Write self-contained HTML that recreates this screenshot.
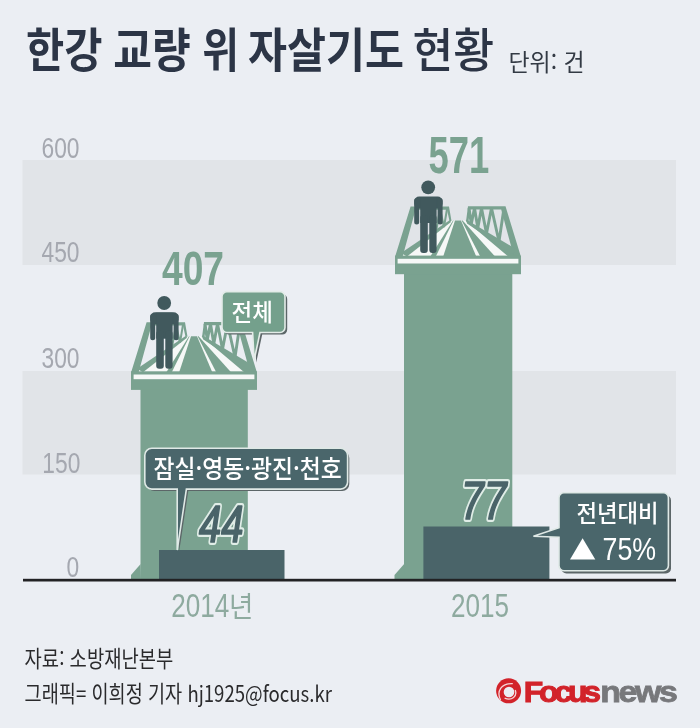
<!DOCTYPE html>
<html lang="ko">
<head>
<meta charset="utf-8">
<title>한강 교량 위 자살기도 현황</title>
<style>
html,body{margin:0;padding:0;background:#ebeef3;}
body{width:700px;height:728px;overflow:hidden;position:relative;font-family:"Liberation Sans","Noto Sans CJK KR",sans-serif;}
svg{position:absolute;left:0;top:0;display:block;}
.ko{font-family:"Noto Sans CJK KR","NanumGothic",sans-serif;}
.la{font-family:"Liberation Sans","Noto Sans CJK KR",sans-serif;}
</style>
</head>
<body>
<svg width="700" height="728" viewBox="0 0 700 728">
<defs>
  <g id="bridge">
    <!-- deck -->
    <polygon points="397,257 519,257 466.5,220.5 450,220.5" fill="#f6f8f7"/>
    <!-- lanes -->
    <polygon points="430,257 435.5,257 453.6,220.5 453,220.5" fill="#7aa290"/>
    <polygon points="443,257 476.5,257 461,220.5 455,220.5" fill="#7aa290"/>
    <polygon points="480.5,257 495.5,257 462.6,220.5 461.6,220.5" fill="#7aa290"/>
    <polygon points="508.8,257 521,257 468,220.5 465.5,220.5" fill="#7aa290"/>
    <!-- left truss -->
    <polygon points="395,257 402.5,257 415.5,209.8 447,209.8 449.5,221 451.5,221 449,206.6 410.6,206.6" fill="#7aa290"/>
    <polygon points="401,253 407,256.5 451,222 450,220" fill="#7aa290"/>
    <polyline points="436,232 440,209 444,227 447,209" fill="none" stroke="#7aa290" stroke-width="2"/>
    <!-- right truss -->
    <polygon points="468,206.3 505.5,206.3 521,257 514,257 501.2,209.6 470,209.6 468.5,221.5 466,221.5" fill="#7aa290"/>
    <polygon points="466,219.5 467,223.5 513,254.5 516,249" fill="#7aa290"/>
    <polyline points="469,208 471.3,224 474.5,208 477.8,228 481.5,208 486.5,233.5 491.5,208 499,241.5 504,208" fill="none" stroke="#7aa290" stroke-width="2.9" stroke-linejoin="miter"/>
    <!-- slab -->
    <rect x="395" y="255.6" width="126" height="18.6" fill="#7aa290"/>
    <rect x="397.6" y="258.8" width="120.8" height="4.7" fill="#f6f8f7"/>
  </g>
  <g id="person" fill="#41595d">
    <circle cx="428.2" cy="187.3" r="6.9"/>
    <rect x="414.2" y="196.6" width="28.4" height="12" rx="5"/>
    <rect x="414.2" y="198" width="5" height="26.6" rx="2.5"/>
    <rect x="437.6" y="198" width="5" height="26.6" rx="2.5"/>
    <rect x="420.2" y="197" width="16.4" height="26"/>
    <rect x="420.2" y="215" width="7.6" height="38" rx="3"/>
    <rect x="429.3" y="215" width="7.3" height="38" rx="3"/>
  </g>
</defs>

<rect width="700" height="728" fill="#ebeef3"/>

<!-- bands -->
<rect x="22.5" y="160" width="653.5" height="105" fill="#e1e4e8"/>
<rect x="22.5" y="371" width="653.5" height="103.5" fill="#e1e4e8"/>

<!-- title -->
<g class="ko" font-size="46.5" font-weight="700" fill="#2c3546">
<text transform="translate(26,67) scale(0.894,1)">한강</text>
<text transform="translate(113.2,67) scale(0.905,1)">교량</text>
<text transform="translate(202.3,67) scale(0.86,1)">위</text>
<text transform="translate(248,67) scale(0.912,1)">자살기도</text>
<text transform="translate(412.5,67) scale(0.955,1)" font-weight="500">현황</text>
</g>
<text class="ko" transform="translate(508.5,70.6) scale(0.972,1)" font-size="23.6" font-weight="400" fill="#333a44">단위: 건</text>

<!-- axis labels -->
<g class="la" font-size="29.3" fill="#a5a8b0">
<text transform="translate(41.5,157.5) scale(0.778,1)">600</text>
<text transform="translate(41.5,262) scale(0.778,1)">450</text>
<text transform="translate(41.5,367.5) scale(0.778,1)">300</text>
<text transform="translate(42.3,472.5) scale(0.778,1)">150</text>
<text transform="translate(66.5,577) scale(0.778,1)">0</text>
</g>

<!-- bars -->
<rect x="140.5" y="388" width="107.3" height="192" fill="#7aa290"/>
<polygon points="140.6,564 131,575 131,580 141,580" fill="#7aa290"/>
<rect x="404" y="272" width="108.3" height="308" fill="#7aa290"/>
<polygon points="404.1,564 394.5,575 394.5,580 404.5,580" fill="#7aa290"/>

<use href="#bridge"/>
<use href="#person"/>
<use href="#bridge" transform="translate(-264,115.7)"/>
<use href="#person" transform="translate(-264,115.7)"/>

<!-- numbers on top -->
<g class="la" font-weight="700" fill="#7aa290">
<text transform="translate(428.5,173.2) scale(0.715,1)" font-size="51">571</text>
<text transform="translate(162,285) scale(0.775,1)" font-size="48">407</text>
</g>

<!-- dark bars -->
<rect x="159" y="550" width="125.5" height="30" fill="#4a6469"/>
<rect x="423.4" y="526.5" width="126" height="53.5" fill="#4a6469"/>

<!-- baseline -->
<rect x="23" y="578.8" width="653" height="2.7" fill="#222224"/>

<!-- 44 / 77 -->
<g class="la" font-weight="400" font-style="italic" fill="#dcebe4" stroke="#e0ede7" stroke-width="5.4" stroke-linejoin="round">
<text transform="translate(199,541.5) scale(0.763,1)" font-size="52.4" vector-effect="non-scaling-stroke">44</text>
<text transform="translate(461,519.2) scale(0.77,1)" font-size="53" vector-effect="non-scaling-stroke">77</text>
</g>
<g class="la" font-weight="400" font-style="italic" fill="#4a6469" stroke="#4a6469" stroke-width="1.5" stroke-linejoin="round">
<text transform="translate(199,541.5) scale(0.763,1)" font-size="52.4" vector-effect="non-scaling-stroke">44</text>
<text transform="translate(461,519.2) scale(0.77,1)" font-size="53" vector-effect="non-scaling-stroke">77</text>
</g>

<!-- bubble: 전체 -->
<g>
  <path d="M229.2,294 h53 a5,5 0 0 1 5,5 v30.6 a5,5 0 0 1 -5,5 h-20 l-6,27.8 l-1.4,-27.8 h-25.6 a5,5 0 0 1 -5,-5 v-30.6 a5,5 0 0 1 5,-5 z" fill="#5c6668"/>
  <path d="M227,291.6 h53 a5,5 0 0 1 5,5 v30.9 a5,5 0 0 1 -5,5 h-20 l-5.8,27.5 l-1.6,-27.5 h-25.6 a5,5 0 0 1 -5,-5 v-30.9 a5,5 0 0 1 5,-5 z" fill="#74a08c" stroke="#e3ece8" stroke-width="1.6"/>
  <text class="ko" transform="translate(231.6,321.2) scale(0.935,1)" font-size="24" font-weight="500" fill="#fff">전체</text>
</g>

<!-- bubble: 잠실·영동·광진·천호 -->
<g>
  <path d="M154.3,451 h188 a7,7 0 0 1 7,7 v26 a7,7 0 0 1 -7,7 h-154 l-9.2,61 l0,-61 h-24.8 a7,7 0 0 1 -7,-7 v-26 a7,7 0 0 1 7,-7 z" fill="#5c6668"/>
  <path d="M151.8,448.3 h188.8 a7,7 0 0 1 7,7 v26.8 a7,7 0 0 1 -7,7 h-154.2 l-9.2,61 l0,-61 h-25.4 a7,7 0 0 1 -7,-7 v-26.8 a7,7 0 0 1 7,-7 z" fill="#4a666b" stroke="#dfe9e6" stroke-width="1.6"/>
  <text class="ko" transform="translate(153.5,478.4) scale(0.905,1)" font-size="25.2" font-weight="500" fill="#fff">잠실·영동·광진·천호</text>
</g>

<!-- bubble: 전년대비 -->
<g>
  <path d="M566.4,495.4 h99.6 a5,5 0 0 1 5,5 v68 a5,5 0 0 1 -5,5 h-99.6 a5,5 0 0 1 -5,-5 v-68 a5,5 0 0 1 5,-5 z" fill="#5c6668"/>
  <path d="M564,492.7 h99.4 a5,5 0 0 1 5,5 v68 a5,5 0 0 1 -5,5 h-99.4 a5,5 0 0 1 -5,-5 v-28.4 l-25.6,-1 l25.6,-8.6 v-30 a5,5 0 0 1 5,-5 z" fill="#4a666b" stroke="#dfe9e6" stroke-width="1.6"/>
  <text class="ko" transform="translate(576.5,522.2) scale(0.93,1)" font-size="24" font-weight="500" fill="#fff">전년대비</text>
  <polygon points="570,559.6 595.3,559.6 582.6,538.3" fill="#fff"/>
  <text class="la" transform="translate(602.5,560) scale(0.85,1)" font-size="31.5" fill="#fff">75%</text>
</g>

<!-- year labels -->
<g fill="#8eaa9f">
<text class="la" transform="translate(171.3,617.1) scale(0.782,1)" font-size="33.4">2014</text>
<text class="ko" transform="translate(229,617) scale(0.93,1)" font-size="28.5" font-weight="400">년</text>
<text class="la" transform="translate(451,617.1) scale(0.782,1)" font-size="33.4">2015</text>
</g>

<!-- footer -->
<g class="ko" fill="#2a2a2c" font-size="22.2">
<text transform="translate(24.6,666.7) scale(0.846,1)">자료: 소방재난본부</text>
<text transform="translate(24.6,702) scale(0.838,1)">그래픽= 이희정 기자 hj1925@focus.kr</text>
</g>

<!-- logo -->
<g>
  <g>
    <circle cx="508.6" cy="690.8" r="12.5" fill="#d2232a"/>
    <circle cx="509" cy="692" r="5.3" fill="#ebeef3"/>
    <path d="M500.6,700 C496.2,691.5 501,683.2 512.8,683.6" fill="none" stroke="#f6d6d8" stroke-width="1.3"/>
    <path d="M515.2,690 C517.6,696 512,701.2 504.6,698.2" fill="none" stroke="#f6d6d8" stroke-width="1.3"/>
  </g>
  <text class="la" transform="translate(523.8,701.6) scale(1.07,1)" font-size="29.8" font-weight="700" fill="#d2232a" stroke="#d2232a" stroke-width="1.0" letter-spacing="-3.9">Focus</text>
  <text class="la" transform="translate(600.3,701.8) scale(1.12,1)" font-size="30.3" font-weight="700" fill="#77787b" stroke="#77787b" stroke-width="0.8" letter-spacing="-2.2">news</text>
</g>
</svg>
</body>
</html>
